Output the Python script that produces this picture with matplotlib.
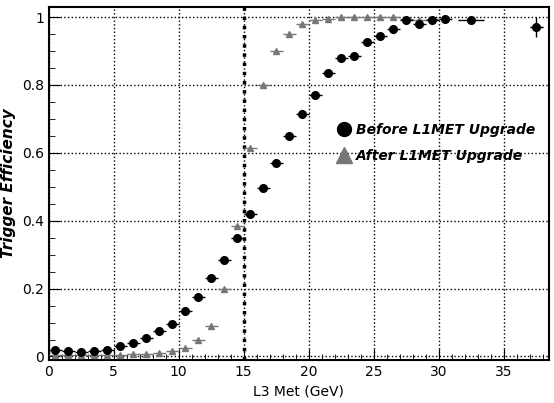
import numpy as np
import matplotlib
matplotlib.use("Agg")
import matplotlib.pyplot as plt
from matplotlib.lines import Line2D

before_x = [0.5, 1.5, 2.5, 3.5, 4.5, 5.5, 6.5, 7.5, 8.5, 9.5, 10.5, 11.5, 12.5, 13.5, 14.5,
            15.5, 16.5, 17.5, 18.5, 19.5, 20.5, 21.5, 22.5, 23.5, 24.5, 25.5, 26.5, 27.5,
            28.5, 29.5, 30.5, 32.5, 37.5]
before_y = [0.02, 0.015, 0.013, 0.015, 0.02, 0.03, 0.04, 0.055, 0.075, 0.095, 0.135, 0.175,
            0.23, 0.285, 0.35, 0.42, 0.495, 0.57, 0.65, 0.715, 0.77, 0.835, 0.88, 0.885,
            0.925, 0.945, 0.965, 0.99, 0.98, 0.99, 0.995, 0.99, 0.97]
before_xerr = [0.5] * 31 + [1.0, 0.5]
before_yerr = [0.003] * 32 + [0.03]

after_x = [0.5, 1.5, 2.5, 3.5, 4.5, 5.5, 6.5, 7.5, 8.5, 9.5, 10.5, 11.5, 12.5, 13.5, 14.5,
           15.5, 16.5, 17.5, 18.5, 19.5, 20.5, 21.5, 22.5, 23.5, 24.5, 25.5, 26.5, 27.5,
           28.5, 29.5, 37.5]
after_y = [0.005, 0.004, 0.003, 0.004, 0.005, 0.005, 0.006, 0.008, 0.01, 0.015, 0.025, 0.05,
           0.09, 0.2, 0.385, 0.615, 0.8, 0.9, 0.95, 0.98, 0.99, 0.995, 1.0, 1.0, 1.0, 1.0,
           1.0, 0.995, 0.99, 0.995, 0.97]

fig = plt.figure(figsize=(5.54, 4.03), dpi=100)
ax = fig.add_axes([0.088, 0.107, 0.903, 0.876])

ax.errorbar(after_x, after_y, xerr=0.5, fmt="^", color="#777777", ms=5, elinewidth=1,
            capsize=0, zorder=3)
ax.errorbar(before_x, before_y, xerr=before_xerr, yerr=before_yerr, fmt="o", color="black",
            ms=5.5, elinewidth=1, capsize=0, zorder=4)
ax.axvline(15, color="black", ls=":", lw=2.5, zorder=2)

ax.set_xlim(0, 38.5)
ax.set_ylim(-0.01, 1.03)
ax.set_xticks(range(0, 40, 5))
ax.set_xticks(np.arange(0, 38.5, 1), minor=True)
ax.set_yticks([0, 0.2, 0.4, 0.6, 0.8, 1])
ax.set_yticklabels(["0", "0.2", "0.4", "0.6", "0.8", "1"])
ax.set_yticks(np.arange(0, 1.03, 0.05), minor=True)
ax.tick_params(which="major", direction="in", length=8, labelsize=10)
ax.tick_params(which="minor", direction="in", length=4)
ax.grid(True, which="major", ls=":", color="black", lw=1)
for s in ax.spines.values():
    s.set_linewidth(1.5)

ax.set_xlabel("L3 Met (GeV)", fontsize=10)
ax.set_ylabel("Trigger Efficiency", fontsize=11, fontweight="bold", style="italic")

handles = [Line2D([], [], marker="o", ls="none", color="black", ms=10),
           Line2D([], [], marker="^", ls="none", color="#777777", ms=11)]
ax.legend(handles, ["Before L1MET Upgrade", "After L1MET Upgrade"], loc="center left",
          bbox_to_anchor=(0.57, 0.615), frameon=False, borderaxespad=0, borderpad=0,
          prop={"weight": "bold", "style": "italic", "size": 10}, handletextpad=0.1,
          handlelength=1.5, labelspacing=0.9)

fig.savefig("out.png", dpi=100)
